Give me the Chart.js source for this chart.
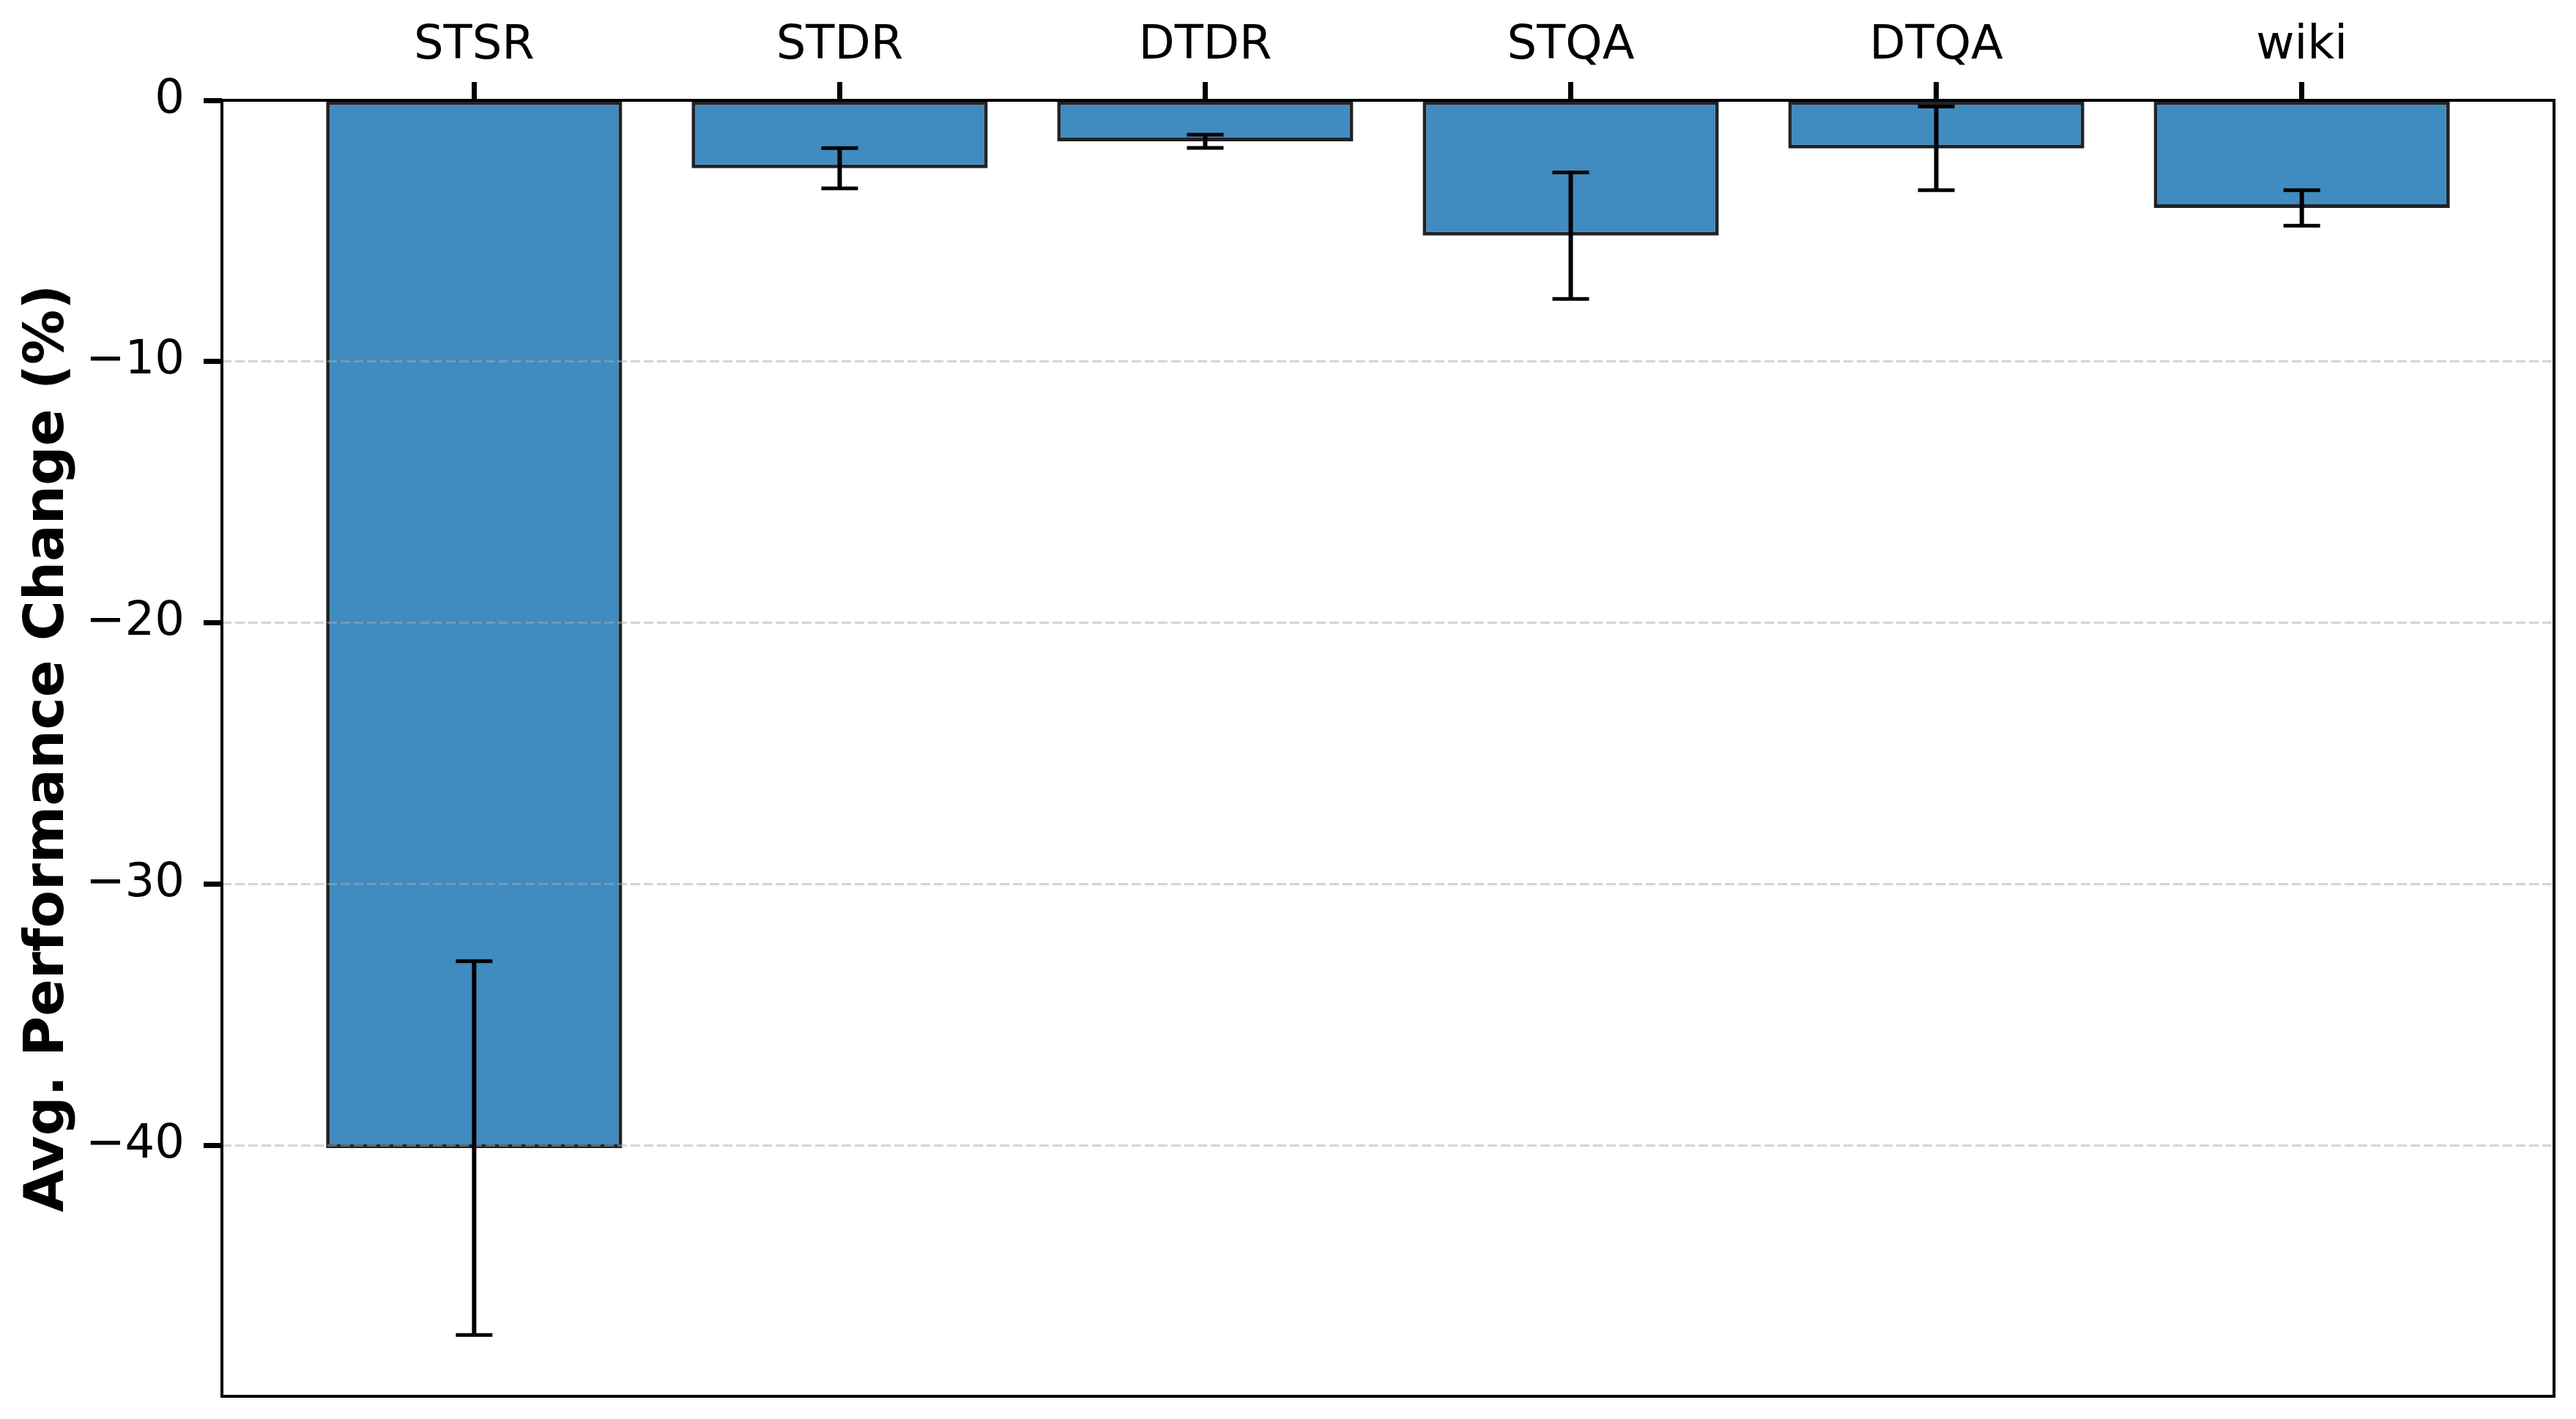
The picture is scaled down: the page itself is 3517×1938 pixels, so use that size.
<!DOCTYPE html>
<html lang="en">
<head>
    <meta charset="UTF-8">
    <title>Avg. Performance Change</title>
    <style>
        html, body {
            margin: 0;
            padding: 0;
            background: #ffffff;
        }
        canvas {
            display: block;
        }
    </style>
</head>
<body>
    <canvas id="perfChart" width="3517" height="1938" style="width:3517px;height:1938px"></canvas>

    <script src="https://cdn.jsdelivr.net/npm/chart.js"></script>
    <script>
        // data
        const categories = ['STSR', 'STDR', 'DTDR', 'STQA', 'DTQA', 'wiki'];
        const meanChange = [-40.1, -2.6, -1.57, -5.18, -1.84, -4.12];
        const errChange = [7.15, 0.77, 0.25, 2.42, 1.6, 0.68];
        const yTicks = [0, -10, -20, -30, -40];

        const FONT = "'DejaVu Sans', sans-serif";

        // frame around the plot + error bars, drawn last
        const framePlugin = {
            id: 'frameAndErrors',
            afterDraw(chart) {
                const ctx = chart.ctx;
                const xs = chart.scales.x;
                const ys = chart.scales.y;
                const a = chart.chartArea;

                ctx.save();
                ctx.strokeStyle = '#000';
                ctx.lineCap = 'butt';
                for (let i = 0; i < meanChange.length; i++) {
                    const x = xs.getPixelForValue(i);
                    const yHi = ys.getPixelForValue(meanChange[i] + errChange[i]);
                    const yLo = ys.getPixelForValue(meanChange[i] - errChange[i]);
                    ctx.lineWidth = 6;
                    ctx.beginPath();
                    ctx.moveTo(x, yHi);
                    ctx.lineTo(x, yLo);
                    ctx.stroke();
                    ctx.lineWidth = 5;
                    ctx.beginPath();
                    ctx.moveTo(x - 25, yHi);
                    ctx.lineTo(x + 25, yHi);
                    ctx.moveTo(x - 25, yLo);
                    ctx.lineTo(x + 25, yLo);
                    ctx.stroke();
                }

                ctx.lineWidth = 4;
                ctx.strokeRect(a.left, a.top, a.right - a.left, a.bottom - a.top);
                ctx.restore();
            }
        };

        // keep the plot box where the figure has it
        function noPad(scale) {
            scale.paddingTop = 0;
            scale.paddingBottom = 0;
            scale.paddingLeft = 0;
            scale.paddingRight = 0;
        }

        window.onload = function() {
            const ctx = document.getElementById('perfChart').getContext('2d');
            new Chart(ctx, {
                type: 'bar',
                data: {
                    datasets: [{
                        label: 'Avg. Performance Change (%)',
                        data: meanChange.map((v, i) => ({ x: i, y: v })),
                        backgroundColor: 'rgba(31, 119, 180, 0.85)',
                        borderColor: '#202326',
                        borderWidth: 5,
                        borderSkipped: false,
                        barPercentage: 0.81,
                        categoryPercentage: 1.0
                    }]
                },
                options: {
                    responsive: false,
                    animation: false,
                    devicePixelRatio: 1,
                    layout: {
                        padding: { left: 0, top: 0, right: 30, bottom: 31 }
                    },
                    plugins: {
                        legend: { display: false },
                        tooltip: { enabled: false }
                    },
                    scales: {
                        x: {
                            type: 'linear',
                            position: 'top',
                            min: -0.69,
                            max: 5.69,
                            offset: false,
                            afterBuildTicks: (scale) => {
                                scale.ticks = categories.map((c, i) => ({ value: i }));
                            },
                            afterFit: (scale) => { scale.height = 137; noPad(scale); },
                            ticks: {
                                autoSkip: false,
                                maxRotation: 0,
                                padding: 10,
                                color: '#000',
                                font: { family: FONT, size: 64 },
                                callback: (v) => categories[v]
                            },
                            grid: {
                                offset: false,
                                drawOnChartArea: false,
                                drawTicks: true,
                                tickLength: 25,
                                tickWidth: 7,
                                tickColor: '#000'
                            },
                            border: { display: false }
                        },
                        y: {
                            type: 'linear',
                            min: -49.6,
                            max: 0,
                            afterBuildTicks: (scale) => {
                                scale.ticks = yTicks.map(v => ({ value: v }));
                            },
                            afterFit: (scale) => { scale.width = 303; noPad(scale); },
                            ticks: {
                                padding: 26,
                                color: '#000',
                                font: { family: FONT, size: 64 },
                                callback: (v) => (v < 0 ? '\u2212' + Math.abs(v) : '' + v)
                            },
                            grid: {
                                z: 1,
                                color: (c) => (c.tick && c.tick.value === 0 ? 'rgba(0,0,0,0)' : 'rgba(170, 170, 170, 0.5)'),
                                lineWidth: 3,
                                drawTicks: true,
                                tickLength: 25,
                                tickWidth: 7,
                                tickColor: '#000',
                                tickBorderDash: []
                            },
                            border: { display: false, dash: [13, 5] },
                            title: {
                                display: true,
                                text: 'Avg. Performance Change (%)',
                                color: '#000',
                                font: { family: FONT, size: 75, weight: 'bold' },
                                padding: { top: 22, bottom: 0 }
                            }
                        }
                    }
                },
                plugins: [framePlugin]
            });
        };
    </script>
</body>
</html>
